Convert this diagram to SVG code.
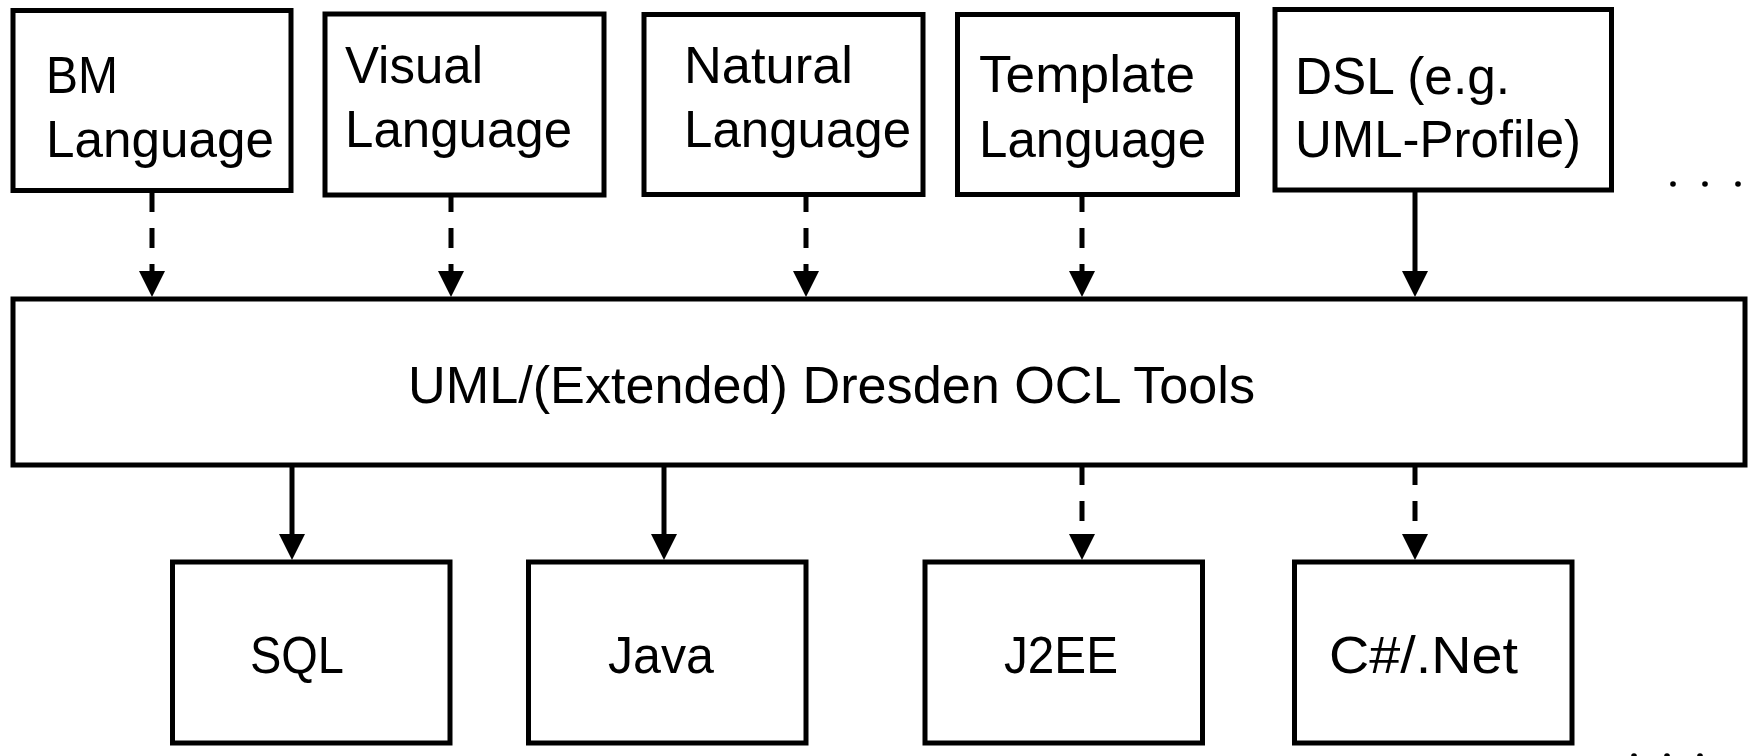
<svg xmlns="http://www.w3.org/2000/svg" width="1751" height="756" viewBox="0 0 1751 756">
<style>
.box{fill:#fff;stroke:#000;stroke-width:5}
.t{font-family:"Liberation Sans",Arial,sans-serif;font-size:52px;fill:#000}
.c{stroke:#000;stroke-width:5;fill:none}
.d{stroke-dasharray:20 16}
.dot{fill:#000}
</style>
<defs>
<marker id="ah" markerUnits="userSpaceOnUse" viewBox="0 0 26 26" markerWidth="26" markerHeight="26" refX="0" refY="13" orient="auto">
<path d="M0,0 L26,13 L0,26 z" fill="#000"/>
</marker>
</defs>
<rect width="1751" height="756" fill="#fff"/>
<g id="connectors">
<line class="c d" x1="152" y1="192" x2="152" y2="271" marker-end="url(#ah)"/>
<line class="c d" x1="451" y1="192" x2="451" y2="271" marker-end="url(#ah)"/>
<line class="c d" x1="806" y1="192" x2="806" y2="271" marker-end="url(#ah)"/>
<line class="c d" x1="1082" y1="192" x2="1082" y2="271" marker-end="url(#ah)"/>
<line class="c" x1="1415" y1="190" x2="1415" y2="271" marker-end="url(#ah)"/>
<line class="c" x1="292" y1="465" x2="292" y2="534" marker-end="url(#ah)"/>
<line class="c" x1="664" y1="465" x2="664" y2="534" marker-end="url(#ah)"/>
<line class="c d" x1="1082" y1="465" x2="1082" y2="534" marker-end="url(#ah)"/>
<line class="c d" x1="1415" y1="465" x2="1415" y2="534" marker-end="url(#ah)"/>
</g>
<g id="bm">
<rect class="box" x="13" y="10.5" width="278" height="180"/>
<text class="t" x="46" y="93" textLength="72" lengthAdjust="spacingAndGlyphs">BM</text>
<text class="t" x="46" y="157" textLength="228" lengthAdjust="spacingAndGlyphs">Language</text>
</g>
<g id="visual">
<rect class="box" x="325" y="14" width="279" height="181"/>
<text class="t" x="345" y="83" textLength="138" lengthAdjust="spacingAndGlyphs">Visual</text>
<text class="t" x="345" y="147" textLength="227" lengthAdjust="spacingAndGlyphs">Language</text>
</g>
<g id="natural">
<rect class="box" x="644" y="14.5" width="279" height="180"/>
<text class="t" x="684" y="83" textLength="169" lengthAdjust="spacingAndGlyphs">Natural</text>
<text class="t" x="684" y="147" textLength="227" lengthAdjust="spacingAndGlyphs">Language</text>
</g>
<g id="template">
<rect class="box" x="957.5" y="14.5" width="280" height="180"/>
<text class="t" x="979" y="92" textLength="216" lengthAdjust="spacingAndGlyphs">Template</text>
<text class="t" x="979" y="157" textLength="227" lengthAdjust="spacingAndGlyphs">Language</text>
</g>
<g id="dsl">
<rect class="box" x="1275" y="9.5" width="336.5" height="180.5"/>
<text class="t" x="1295" y="94" textLength="215" lengthAdjust="spacingAndGlyphs">DSL (e.g.</text>
<text class="t" x="1295" y="157" textLength="286" lengthAdjust="spacingAndGlyphs">UML-Profile)</text>
</g>
<g id="more-top">
<circle class="dot" cx="1673" cy="184" r="2.8"/>
<circle class="dot" cx="1705" cy="184" r="2.8"/>
<circle class="dot" cx="1738" cy="184" r="2.8"/>
</g>
<g id="tools">
<rect class="box" x="13" y="299" width="1732" height="166"/>
<text class="t" x="408" y="403" textLength="847" lengthAdjust="spacingAndGlyphs">UML/(Extended) Dresden OCL Tools</text>
</g>
<g id="sql">
<rect class="box" x="172.5" y="562" width="277.5" height="181"/>
<text class="t" x="250" y="673" textLength="94" lengthAdjust="spacingAndGlyphs">SQL</text>
</g>
<g id="java">
<rect class="box" x="528.5" y="562" width="277.5" height="181"/>
<text class="t" x="608" y="673" textLength="106" lengthAdjust="spacingAndGlyphs">Java</text>
</g>
<g id="j2ee">
<rect class="box" x="925" y="562" width="277.5" height="181"/>
<text class="t" x="1004" y="673" textLength="114" lengthAdjust="spacingAndGlyphs">J2EE</text>
</g>
<g id="csharp">
<rect class="box" x="1294.5" y="562" width="277.5" height="181"/>
<text class="t" x="1329" y="673" textLength="189" lengthAdjust="spacingAndGlyphs">C#/.Net</text>
</g>
<g id="more-bottom">
<circle class="dot" cx="1634" cy="756" r="2.8"/>
<circle class="dot" cx="1667" cy="756" r="2.8"/>
<circle class="dot" cx="1700" cy="756" r="2.8"/>
</g>
</svg>
